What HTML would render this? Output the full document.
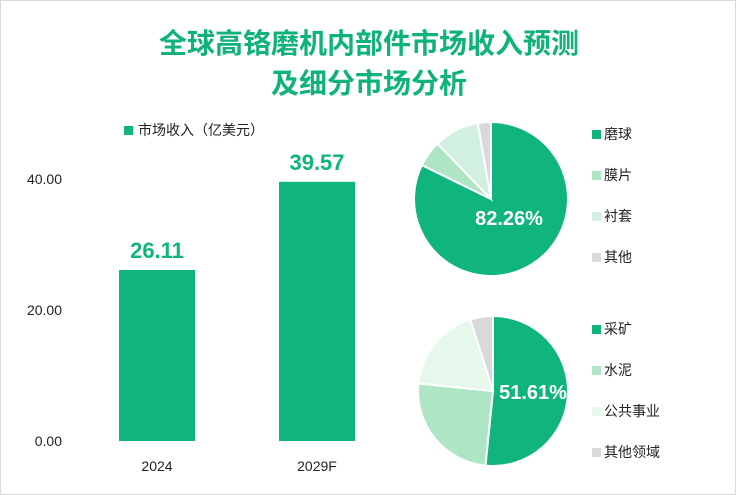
<!DOCTYPE html>
<html><head><meta charset="utf-8"><style>
body{margin:0;background:#fff;}
#wrap{position:relative;width:734px;height:493px;border:1px solid #d9d9d9;overflow:hidden;font-family:"Liberation Sans","Noto Sans CJK SC",sans-serif;}
.title{position:absolute;left:0;width:736px;text-align:center;color:#10b27b;font-weight:bold;font-size:28px;}
</style></head><body>
<div id="wrap">
<div class="title" style="top:21px">全球高铬磨机内部件市场收入预测</div>
<div class="title" style="top:61px">及细分市场分析</div>
<svg id="svg" width="736" height="495" style="position:absolute;left:0;top:0"></svg>
</div>
<script>
const years=["2024","2029F"];
const revenue=[26.11,39.57];
const yTicks=[0,20,40];
const yTickLabels=["0.00","20.00","40.00"];
const pie1Labels=["磨球","膜片","衬套","其他"];
const pie1Values=[82.26,5.5,9.5,2.74];
const pie2Labels=["采矿","水泥","公共事业","其他领域"];
const pie2Values=[51.61,25,18.5,4.89];
const colors=["#10b47e","#aee5c4","#d2f0df","#d9d9d9"];
const colors2=["#10b47e","#aee5c4","#e6f7ec","#d9d9d9"];
const NS="http://www.w3.org/2000/svg";
const svg=document.getElementById('svg');
function mk(t,a,txt){const e=document.createElementNS(NS,t);for(const k in a)e.setAttribute(k,a[k]);if(txt!=null)e.textContent=txt;svg.appendChild(e);return e;}
const F='"Liberation Sans","Noto Sans CJK SC",sans-serif';
const y0=440,pxPer=6.55;
const yS=v=>y0-v*pxPer;
const xC=[156,316],bw=76;
yTicks.forEach((t,i)=>{const e=mk('text',{x:61,y:yS(t)+5,'text-anchor':'end','font-size':14,fill:'#222','font-family':F},yTickLabels[i]);
});
revenue.forEach((v,i)=>{
const r=mk('rect',{x:xC[i]-bw/2,y:yS(v),width:bw,height:v*pxPer,fill:'#10b47e'});

const l=mk('text',{x:xC[i],y:yS(v)-12,'text-anchor':'middle','font-size':22,'font-weight':'bold',fill:'#10b47e','font-family':F},v.toFixed(2));

const c=mk('text',{x:xC[i],y:470,'text-anchor':'middle','font-size':14,fill:'#222','font-family':F},years[i]);

});
const lg=mk('rect',{x:123,y:125,width:9,height:9,fill:'#10b47e'});

const lt=mk('text',{x:137,y:134,'font-size':14,fill:'#222','font-family':F},'市场收入（亿美元）');

function pie(cx,cy,r,vals,labs,cols,name,legY){
let a=0;const tot=vals.reduce((s,v)=>s+v,0);
vals.forEach((v,i)=>{const a1=a+v/tot*2*Math.PI;
const p=(t)=>[cx+r*Math.sin(t),cy-r*Math.cos(t)];
const [x0,yy0]=p(a),[x1,y1]=p(a1);
const s=mk('path',{d:`M${cx},${cy}L${x0},${yy0}A${r},${r} 0 ${a1-a>Math.PI?1:0} 1 ${x1},${y1}Z`,fill:cols[i],stroke:'#fff','stroke-width':2});

a=a1;
const sw=mk('rect',{x:591,y:legY+i*41-9,width:9,height:9,fill:cols[i]});

const t=mk('text',{x:603,y:legY+i*41,'font-size':14,fill:'#222','font-family':F},labs[i]);

});
}
pie(490,198,77,pie1Values,pie1Labels,colors,'pie-components',138);
pie(492,390,75,pie2Values,pie2Labels,colors2,'pie-applications',333);
const p1=mk('text',{x:508,y:224,'text-anchor':'middle','font-size':20,'font-weight':'bold',fill:'#fff','font-family':F},pie1Values[0].toFixed(2)+'%');

const p2=mk('text',{x:532,y:398,'text-anchor':'middle','font-size':20,'font-weight':'bold',fill:'#fff','font-family':F},pie2Values[0].toFixed(2)+'%');

</script>
</body></html>
